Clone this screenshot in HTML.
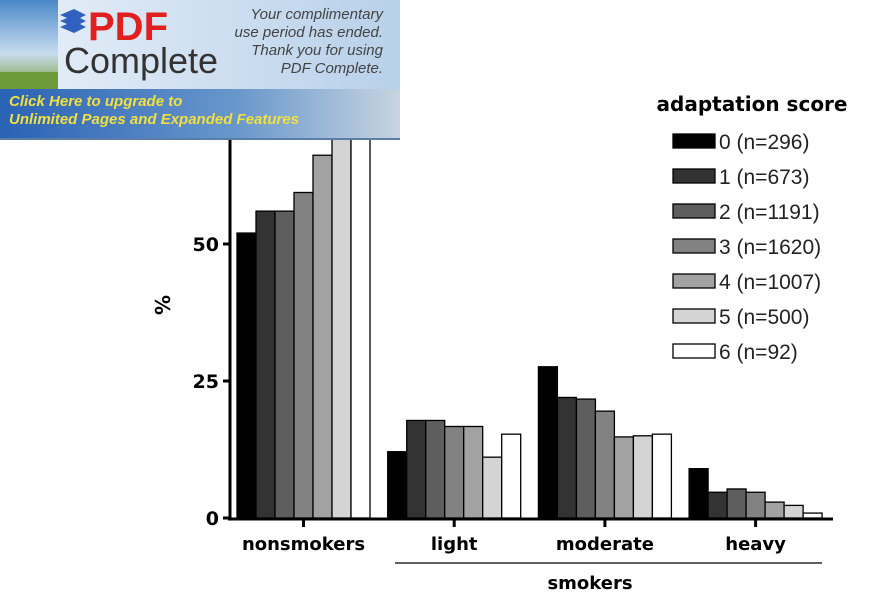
<!DOCTYPE html>
<html><head><meta charset="utf-8"><style>
html,body{margin:0;padding:0;background:#fff;}
body{width:885px;height:606px;overflow:hidden;position:relative;font-family:"Liberation Sans",sans-serif;}
#banner{position:absolute;left:0;top:0;width:400px;height:140px;}
</style></head><body>
<svg id="chart" width="885" height="606" style="position:absolute;left:0;top:0">
  <g id="bars"></g>
  <line x1="230" y1="0" x2="230" y2="520" stroke="#000" stroke-width="3"/>
  <line x1="228" y1="519" x2="833" y2="519" stroke="#000" stroke-width="3"/>
  <g id="yticks"></g>
  <g id="xticks"></g>
  <text transform="translate(170,305) rotate(-90)" text-anchor="middle" font-size="20" font-weight="bold" font-family="DejaVu Sans, sans-serif">%</text>
  <line x1="395" y1="563" x2="822" y2="563" stroke="#000" stroke-width="1.2"/>
  <text x="590" y="589" text-anchor="middle" font-size="18" font-weight="bold" font-family="DejaVu Sans, sans-serif">smokers</text>
  <text x="752" y="111" text-anchor="middle" font-size="20" font-weight="bold" font-family="DejaVu Sans, sans-serif">adaptation score</text>
  <g id="legend"></g>
</svg>
<svg id="banner" width="400" height="140">
  <defs>
    <linearGradient id="tg" x1="0" x2="1"><stop offset="0" stop-color="#e8f0f8"/><stop offset="1" stop-color="#b8d0ea"/></linearGradient>
    <linearGradient id="bg" x1="0" x2="1"><stop offset="0" stop-color="#2a62b4"/><stop offset="0.6" stop-color="#6a98cc"/><stop offset="1" stop-color="#c8d4e0"/></linearGradient>
    <linearGradient id="sky" x1="0" y1="0" x2="0" y2="1"><stop offset="0" stop-color="#4a88c8"/><stop offset="0.6" stop-color="#c8dcee"/><stop offset="1" stop-color="#7aa040"/></linearGradient>
  </defs>
  <rect x="0" y="0" width="400" height="89" fill="url(#tg)"/>
  <rect x="0" y="0" width="58" height="89" fill="url(#sky)"/>
  <rect x="0" y="72" width="58" height="17" fill="#6c9a3a"/>
  <rect x="0" y="89" width="400" height="49" fill="url(#bg)"/>
  <rect x="0" y="138" width="400" height="2" fill="#5a7ea8"/>
  <text x="88" y="40" font-size="40" font-weight="bold" fill="#e02020" font-family="Liberation Sans Narrow, Liberation Sans, sans-serif">PDF</text>
  <path d="M60 15 L74 9 L86 15 L74 21 Z M60 21 L74 15 L86 21 L74 27Z M60 27 L74 21 L86 27 L74 33Z" fill="#3060c0"/>
  <text x="64" y="73" font-size="36" fill="#333">Complete</text>
  <g font-size="15" font-style="italic" fill="#444" text-anchor="end">
    <text x="383" y="19">Your complimentary</text>
    <text x="383" y="37">use period has ended.</text>
    <text x="383" y="55">Thank you for using</text>
    <text x="383" y="73">PDF Complete.</text>
  </g>
  <g font-size="15" font-style="italic" font-weight="bold" fill="#f0e040">
    <text x="9" y="106">Click Here to upgrade to</text>
    <text x="9" y="124">Unlimited Pages and Expanded Features</text>
  </g>
</svg>
<script>
const categories = ["nonsmokers","light","moderate","heavy"];
const seriesNames = ["0 (n=296)","1 (n=673)","2 (n=1191)","3 (n=1620)","4 (n=1007)","5 (n=500)","6 (n=92)"];
const score0 = [52.0, 12.1, 27.6, 9.0];
const score1 = [56.0, 17.8, 22.0, 4.7];
const score2 = [56.0, 17.8, 21.7, 5.3];
const score3 = [59.4, 16.7, 19.5, 4.7];
const score4 = [66.2, 16.7, 14.8, 2.9];
const score5 = [76.0, 11.1, 15.0, 2.3];
const score6 = [76.0, 15.3, 15.3, 0.9];
const yTicks = [0, 25, 50];
const series = [score0,score1,score2,score3,score4,score5,score6];
const fills = ["#000","#333","#5e5e5e","#828282","#a2a2a2","#d4d4d4","#fff"];
const NS="http://www.w3.org/2000/svg";
const y0=518, pxPerUnit=5.48;
function yScale(v){return y0 - v*pxPerUnit;}
const groupStart=237, groupStep=150.7, barW=19;
function xScale(ci,si){return groupStart + ci*groupStep + si*barW;}
const bars=document.getElementById('bars');
categories.forEach((c,ci)=>{
  series.forEach((s,si)=>{
    const r=document.createElementNS(NS,'rect');
    const top=Math.max(yScale(s[ci]),-5);
    r.setAttribute('x',xScale(ci,si));
    r.setAttribute('y',top);
    r.setAttribute('width',barW);
    r.setAttribute('height',y0-top);
    r.setAttribute('fill',fills[si]);
    r.setAttribute('stroke','#000');
    r.setAttribute('stroke-width','1.3');
    
    
    bars.appendChild(r);
  });
});
const yt=document.getElementById('yticks');
yTicks.forEach(t=>{
  const l=document.createElementNS(NS,'line');
  l.setAttribute('x1',223);l.setAttribute('x2',230);
  l.setAttribute('y1',yScale(t));l.setAttribute('y2',yScale(t));
  l.setAttribute('stroke','#000');l.setAttribute('stroke-width','3');
  
  
  yt.appendChild(l);
  const tx=document.createElementNS(NS,'text');
  tx.setAttribute('x',219);tx.setAttribute('y',yScale(t)+7);
  tx.setAttribute('text-anchor','end');tx.setAttribute('font-size','19');
  tx.setAttribute('font-weight','bold');tx.setAttribute('font-family','DejaVu Sans, sans-serif');
  tx.textContent=t;
  
  
  yt.appendChild(tx);
});
const xt=document.getElementById('xticks');
categories.forEach((c,ci)=>{
  const cx=xScale(ci,0)+barW*7/2;
  const l=document.createElementNS(NS,'line');
  l.setAttribute('x1',cx);l.setAttribute('x2',cx);
  l.setAttribute('y1',519);l.setAttribute('y2',527);
  l.setAttribute('stroke','#000');l.setAttribute('stroke-width','3');
  
  
  xt.appendChild(l);
  const tx=document.createElementNS(NS,'text');
  tx.setAttribute('x',cx);tx.setAttribute('y',550);
  tx.setAttribute('text-anchor','middle');tx.setAttribute('font-size','18');
  tx.setAttribute('font-weight','bold');tx.setAttribute('font-family','DejaVu Sans, sans-serif');
  tx.textContent=c;
  
  
  xt.appendChild(tx);
});
const lg=document.getElementById('legend');
seriesNames.forEach((n,i)=>{
  const cy=141+i*35;
  const r=document.createElementNS(NS,'rect');
  r.setAttribute('x',673);r.setAttribute('y',cy-7);
  r.setAttribute('width',42);r.setAttribute('height',14);
  r.setAttribute('fill',fills[i]);r.setAttribute('stroke','#000');r.setAttribute('stroke-width','1.3');
  
  
  lg.appendChild(r);
  const tx=document.createElementNS(NS,'text');
  tx.setAttribute('x',719);tx.setAttribute('y',cy+8);
  tx.setAttribute('font-size','21');tx.setAttribute('fill','#222');
  tx.textContent=n;
  
  
  lg.appendChild(tx);
});
</script>
</body></html>
